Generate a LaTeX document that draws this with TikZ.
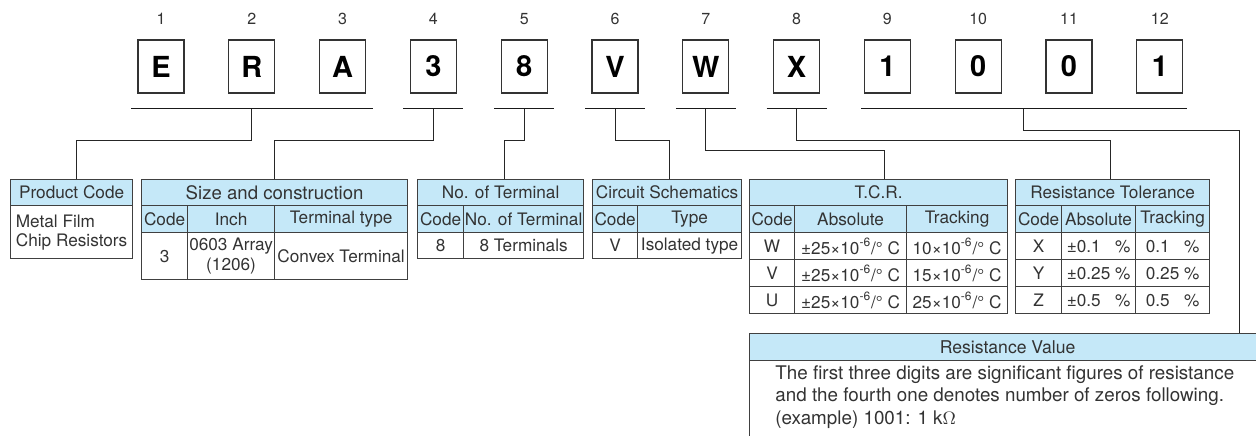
\documentclass[tikz,border=0pt]{standalone}
\usepackage{fontspec}
\setmainfont{TeX Gyre Heros}
\usetikzlibrary{calc}

\definecolor{hdblue}{RGB}{197,232,248}
\tikzset{
  digit/.style={draw=black!80, line width=0.65pt, fill=white, minimum width=23pt,
    minimum height=26.5pt, inner sep=0pt, font=\fontsize{14.5}{14.5}\selectfont\bfseries},
  num/.style={text=black!80, inner sep=0pt, font=\fontsize{8}{8}\selectfont},
  bar/.style={line width=0.5pt, black!90},
  conn/.style={line width=0.5pt, black!85},
  cell/.style={draw=black!75, line width=0.6pt, inner sep=0pt, anchor=north west,
    text=black!80, font=\fontsize{8.6}{10}\selectfont},
  hcell/.style={cell, fill=hdblue},
  hrow/.style={minimum height=13pt},
  srow/.style={minimum height=13.5pt},
}

\begin{document}
\begin{tikzpicture}[x=0.5pt, y=-0.5pt]
    \clip (0,0) rectangle (1256,435);
    % part number boxes
    \foreach \ch [count=\i] in {E,R,A,3,8,V,W,X,1,0,0,1} {
        \pgfmathsetmacro{\xc}{161+90.8*(\i-1)}
        \node[digit] (d\i) at (\xc,66.5) {\ch};
        \node[num] (n\i) at (\xc,19) {\i};
    }
    % bars under the boxes
    \draw[bar] ($(d1.south)+(-30,15)$) -- ($(d3.south)+(30,15)$);
    \coordinate (b1) at ($(d2.south)+(0,15)$);
    \foreach \i in {4,...,8} {
        \draw[bar] ($(d\i.south)+(-30,15)$) -- ($(d\i.south)+(30,15)$);
        \coordinate (b\i) at ($(d\i.south)+(0,15)$);
    }
    \draw[bar] ($(d9.south)+(-26,15)$) -- ($(d12.south)+(27,15)$);
    \coordinate (b9) at ($(d10.south)!0.5!(d11.south)+(0,15)$);

    % product code
    \node[hcell, hrow, minimum width=61pt] (pc-h) at (10,179) {Product Code};
    \node[cell, minimum width=61pt, minimum height=26.5pt, align=left] (pc-b) at (10,205)
        {Metal Film\\[-0.5pt]Chip Resistors};

    % size and construction
    \node[hcell, hrow, minimum width=133pt, font=\fontsize{9.3}{10}\selectfont] (sz-h) at (141,179) {Size and construction};
    \node[hcell, srow, minimum width=23pt] (sz-c1) at (141,205) {Code};
    \node[hcell, srow, minimum width=43.5pt] (sz-c2) at (187,205) {Inch};
    \node[hcell, srow, minimum width=66.5pt] (sz-c3) at (274,205) {Terminal type};
    \node[cell, minimum width=23pt, minimum height=23.5pt] (sz-v1) at (141,232) {3};
    \node[cell, minimum width=43.5pt, minimum height=23.5pt, align=center,
        font=\fontsize{8.6}{10.3}\selectfont] (sz-v2) at (187,232) {0603 Array\\(1206)};
    \node[cell, minimum width=66.5pt, minimum height=23.5pt] (sz-v3) at (274,232) {Convex Terminal};

    % no. of terminal
    \node[hcell, hrow, minimum width=83pt] (nt-h) at (417,179) {No. of Terminal};
    \node[hcell, srow, minimum width=23pt] (nt-c1) at (417,205) {Code};
    \node[hcell, srow, minimum width=60pt] (nt-c2) at (463,205) {No. of Terminal};
    \node[cell, hrow, minimum width=23pt] (nt-v1) at (417,232) {8};
    \node[cell, hrow, minimum width=60pt] (nt-v2) at (463,232) {8 Terminals};

    % circuit schematics
    \node[hcell, hrow, minimum width=74.5pt] (cs-h) at (592,179) {Circuit Schematics};
    \node[hcell, srow, minimum width=22.5pt] (cs-c1) at (592,205) {Code};
    \node[hcell, srow, minimum width=52pt] (cs-c2) at (637,205) {Type};
    \node[cell, hrow, minimum width=22.5pt] (cs-v1) at (592,232) {V};
    \node[cell, hrow, minimum width=52pt] (cs-v2) at (637,232) {Isolated type};

    % T.C.R.
    \node[hcell, hrow, minimum width=129pt] (tc-h) at (749,179) {T.C.R.};
    \node[hcell, srow, minimum width=22.5pt] (tc-c1) at (749,205) {Code};
    \node[hcell, srow, minimum width=56pt] (tc-c2) at (794,205) {Absolute};
    \node[hcell, srow, minimum width=50.5pt] (tc-c3) at (906,205) {Tracking};
    \foreach \cd/\tr [count=\r] in {W/10, V/15, U/25} {
        \pgfmathsetmacro{\ya}{232+27*(\r-1)}
        \node[cell, srow, minimum width=22.5pt] (tc-a\r) at (749,\ya) {\cd};
        \node[cell, srow, minimum width=56pt] (tc-b\r) at (794,\ya) {±25×10\textsuperscript{-6}/° C};
        \node[cell, srow, minimum width=50.5pt] (tc-t\r) at (906,\ya) {\tr×10\textsuperscript{-6}/° C};
    }

    % resistance tolerance
    \node[hcell, hrow, minimum width=97pt] (rt-h) at (1015,179) {Resistance Tolerance};
    \node[hcell, srow, minimum width=23pt] (rt-c1) at (1015,205) {Code};
    \node[hcell, srow, minimum width=37pt] (rt-c2) at (1061,205) {Absolute};
    \node[hcell, srow, minimum width=37pt] (rt-c3) at (1135,205) {Tracking};
    \foreach \cd/\tl [count=\r] in {X/0.1\phantom{5}, Y/0.25, Z/0.5\phantom{5}} {
        \pgfmathsetmacro{\ya}{232+27*(\r-1)}
        \node[cell, srow, minimum width=23pt] (rt-a\r) at (1015,\ya) {\cd};
        \node[cell, srow, minimum width=37pt] (rt-b\r) at (1061,\ya) {±\tl\ \%};
        \node[cell, srow, minimum width=37pt] (rt-t\r) at (1135,\ya) {\tl\ \%};
    }

    % resistance value
    \node[hcell, srow, minimum width=258pt, font=\fontsize{8.8}{10}\selectfont] (rv-h) at (749,333) {Resistance Value};
    \node[cell, minimum width=258pt, minimum height=50pt] (rv-b) at (749,360) {};
    \node[anchor=west, align=left, inner sep=0pt, text=black!80,
        font=\fontsize{9.4}{11.3}\selectfont] (rv-t) at (775,397)
        {The first three digits are significant figures of resistance\\
         and the fourth one denotes number of zeros following.\\
         (example) 1001: 1 k$\Omega$};

    % connectors
    \draw[conn] (b1) -- ++(0,32) -| ([xshift=2.5pt]pc-h.north);
    \draw[conn] (b4) -- ++(0,32) -| (sz-h.north);
    \draw[conn] (b5) -- ++(0,32) -| ([xshift=2pt]nt-h.north);
    \draw[conn] (b6) -- ++(0,32) -| ([xshift=1.25pt]cs-h.north);
    \draw[conn] (b7) -- ++(0,42) -| ([xshift=3pt]tc-h.north);
    \draw[conn] (b8) -- ++(0,32) -| ([xshift=-1pt]rt-h.north);
    \draw[conn] (b9) -- ++(0,22) -| ([xshift=-13.5pt]rv-h.north east);
\end{tikzpicture}
\end{document}
